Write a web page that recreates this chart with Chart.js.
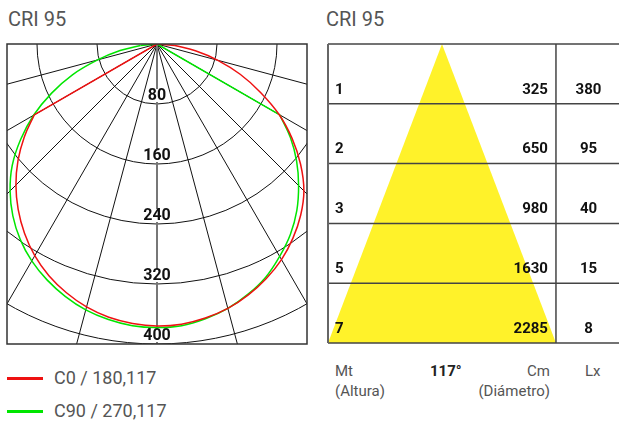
<!DOCTYPE html>
<html>
<head>
<meta charset="utf-8">
<script src="https://cdn.jsdelivr.net/npm/chart.js@4.4.1/dist/chart.umd.min.js"></script>
<style>
  html, body { margin: 0; padding: 0; background: #fff; }
  body { width: 619px; height: 426px; position: relative; overflow: hidden; font-family: Roboto, 'DejaVu Sans', sans-serif; color: #555; }
  canvas { position: absolute; top: 0; }
  .title { position: absolute; top: 10px; font-size: 20px; line-height: 18px; font-weight: 400; }
  .legend { position: absolute; left: 7px; font-size: 18px; line-height: 18px; font-weight: 400; }
  .legend span { display: inline-block; width: 36px; height: 3px; vertical-align: middle; margin-right: 11px; position: relative; top: -1px; }
  .foot { position: absolute; top: 361px; font-size: 15px; line-height: 20px; font-weight: 400; color: #555; }
</style>
</head>
<body>
<div class="title" style="left:8px">CRI 95</div>
<div class="title" style="left:326px">CRI 95</div>
<canvas id="polar" width="320" height="350" style="left:0"></canvas>
<canvas id="cone" width="299" height="350" style="left:320px"></canvas>
<div id="legend"></div>
<div class="foot" style="left:335px">Mt<br>(Altura)</div>
<div class="foot" style="left:430px; font-weight:700; color:#222" id="beam"></div>
<div class="foot" style="left:430px; width:120px; text-align:right">Cm<br>(Diámetro)</div>
<div class="foot" style="left:585px">Lx</div>
<script>
// polar curve, cd per angle from the vertical (0..90 step 5)
const angles = [0, 5, 10, 15, 20, 25, 30, 35, 40, 45, 50, 55, 60, 65, 70, 75, 80, 85, 90];
const c0   = [376, 375, 371, 365, 356, 345, 332, 316, 298, 277, 250, 220, 188, 152, 118, 84, 52, 24, 0];
const c180 = [376, 374, 370, 363, 353, 341, 326, 308, 288, 266, 242, 216, 189, 0, 0, 0, 0, 0, 0];
const c90  = [378, 377, 372, 365, 355, 343, 327, 310, 290, 267, 243, 217, 189, 0, 0, 0, 0, 0, 0];
const c270 = [378, 377, 373, 367, 358, 347, 334, 318, 299, 277, 252, 222, 190, 155, 120, 82, 50, 22, 0];
const ringValues = [80, 160, 240, 320, 400];
const rayStep = 15;
const seriesLabels = ['C0 / 180,117', 'C90 / 270,117'];
const seriesColors = ['#ee1111', '#00e600'];

// isolux table
const heights = [1, 2, 3, 5, 7];
const diameters = [325, 650, 980, 1630, 2285];
const lux = [380, 95, 40, 15, 8];
const beamAngle = '117°';

document.getElementById('beam').textContent = beamAngle;
document.getElementById('legend').innerHTML = seriesLabels.map((l, i) =>
  `<div class="legend" style="top:${369 + i * 33}px"><span style="background:${seriesColors[i]}"></span>${l}</div>`).join('');

function toXY(deg, v) {
  const a = deg * Math.PI / 180;
  return { x: v * Math.sin(a), y: -v * Math.cos(a) };
}

// smooth part of a curve (left half then right half) + straight drops to the origin
function curveParts(left, right) {
  const smooth = [], drops = [];
  const lastL = left.findIndex((v, i) => i > 0 && v === 0);
  const lastR = right.findIndex((v, i) => i > 0 && v === 0);
  const endL = lastL > 0 ? lastL - 1 : angles.length - 1;
  const endR = lastR > 0 ? lastR - 1 : angles.length - 1;
  for (let i = endL; i >= 0; i--) smooth.push(toXY(-angles[i], left[i]));
  for (let i = 1; i <= endR; i++) smooth.push(toXY(angles[i], right[i]));
  if (lastL > 0) drops.push([{ x: 0, y: 0 }, smooth[0]]);
  if (lastR > 0) drops.push([smooth[smooth.length - 1], { x: 0, y: 0 }]);
  return { smooth, drops };
}

const polarGrid = {
  id: 'polarGrid',
  beforeDatasetsDraw(chart) {
    const { ctx, chartArea: a, scales: { x, y } } = chart;
    const cx = x.getPixelForValue(0), cy = y.getPixelForValue(0);
    ctx.save();
    ctx.beginPath();
    ctx.rect(a.left, a.top, a.width, a.height);
    ctx.clip();
    ctx.strokeStyle = '#111';
    ctx.lineWidth = 1;
    ringValues.forEach(v => {
      const rx = x.getPixelForValue(v) - cx;
      const ry = y.getPixelForValue(-v) - cy;
      ctx.beginPath();
      ctx.ellipse(cx, cy, rx, ry, 0, 0, Math.PI);
      ctx.stroke();
    });
    for (let d = -90 + rayStep; d < 90; d += rayStep) {
      if (d === 0) continue;
      const p = toXY(d, 1000);
      ctx.beginPath();
      ctx.moveTo(cx, cy);
      ctx.lineTo(x.getPixelForValue(p.x), y.getPixelForValue(p.y));
      ctx.stroke();
    }
    // centre axis
    ctx.strokeStyle = '#777';
    ctx.lineWidth = 2;
    ctx.beginPath();
    ctx.moveTo(cx, a.top);
    ctx.lineTo(cx, a.bottom);
    ctx.stroke();
    // ring labels
    ctx.font = 'bold 16px Roboto, sans-serif';
    ctx.textAlign = 'center';
    ctx.textBaseline = 'middle';
    ringValues.forEach(v => {
      const ly = y.getPixelForValue(-v) - 9;
      const w = ctx.measureText(String(v)).width;
      ctx.fillStyle = '#fff';
      ctx.fillRect(cx - w / 2 - 1, ly - 6, w + 2, 13);
      ctx.fillStyle = '#111';
      ctx.fillText(String(v), cx, ly + 1);
    });
    ctx.restore();
  },
  afterDraw(chart) {
    const { ctx, chartArea: a } = chart;
    ctx.save();
    ctx.strokeStyle = '#333';
    ctx.lineWidth = 1.5;
    ctx.strokeRect(a.left, a.top, a.width, a.height);
    ctx.restore();
  }
};

const redParts = curveParts(c180, c0);
const greenParts = curveParts(c270, c90);
const polarSets = [];
[redParts, greenParts].forEach((p, i) => {
  polarSets.push({ label: seriesLabels[i], data: p.smooth, borderColor: seriesColors[i], tension: 0.4 });
  p.drops.forEach(d => polarSets.push({ label: seriesLabels[i], data: d, borderColor: seriesColors[i], tension: 0 }));
});

new Chart(document.getElementById('polar'), {
  type: 'scatter',
  data: {
    datasets: polarSets.map(d => Object.assign(d, { showLine: true, borderWidth: 1.5, pointRadius: 0 }))
  },
  options: {
    responsive: false,
    animation: false,
    layout: { padding: { left: 7, top: 44, right: 13, bottom: 6 } },
    plugins: { legend: { display: false }, tooltip: { enabled: false } },
    scales: {
      x: { display: false, min: -200, max: 200 },
      y: { display: false, min: -400, max: 0 }
    }
  },
  plugins: [polarGrid]
});

const table = {
  id: 'table',
  afterDatasetsDraw(chart) {
    const { ctx, chartArea: a, scales: { x, y } } = chart;
    const xl = x.getPixelForValue(-1), xd = x.getPixelForValue(1);
    ctx.save();
    ctx.strokeStyle = '#444';
    ctx.lineWidth = 1.5;
    for (let i = 0; i <= heights.length; i++) {
      const py = y.getPixelForValue(i);
      ctx.beginPath();
      ctx.moveTo(xl, py);
      ctx.lineTo(a.right, py);
      ctx.stroke();
    }
    ctx.beginPath();
    ctx.moveTo(xd, y.getPixelForValue(0));
    ctx.lineTo(xd, y.getPixelForValue(heights.length));
    ctx.stroke();
    ctx.strokeStyle = '#666';
    ctx.lineWidth = 2;
    ctx.beginPath();
    ctx.moveTo(xl, y.getPixelForValue(0));
    ctx.lineTo(xl, y.getPixelForValue(heights.length));
    ctx.stroke();

    ctx.fillStyle = '#111';
    ctx.font = 'bold 15px Roboto, sans-serif';
    ctx.textBaseline = 'middle';
    heights.forEach((h, i) => {
      const py = y.getPixelForValue(i + 0.75) + 1;
      ctx.textAlign = 'left';
      ctx.fillText(String(h), xl + 7, py);
      ctx.textAlign = 'right';
      ctx.fillText(String(diameters[i]), xd - 8, py);
      ctx.textAlign = 'center';
      ctx.fillText(String(lux[i]), (xd + a.right) / 2 + 1, py);
    });
    ctx.restore();
  }
};

new Chart(document.getElementById('cone'), {
  type: 'scatter',
  data: {
    datasets: [{
      label: beamAngle,
      data: [{ x: -1, y: heights.length }, { x: 0, y: 0 }, { x: 1, y: heights.length }],
      showLine: true,
      borderWidth: 0,
      pointRadius: 0,
      backgroundColor: '#fff22a',
      fill: { value: heights.length }
    }]
  },
  options: {
    responsive: false,
    animation: false,
    layout: { padding: { left: 8, top: 44, right: 0, bottom: 7 } },
    plugins: { legend: { display: false }, tooltip: { enabled: false } },
    scales: {
      x: { display: false, min: -1, max: 1.553 },
      y: { display: false, min: 0, max: heights.length, reverse: true }
    }
  },
  plugins: [table]
});
</script>
</body>
</html>
